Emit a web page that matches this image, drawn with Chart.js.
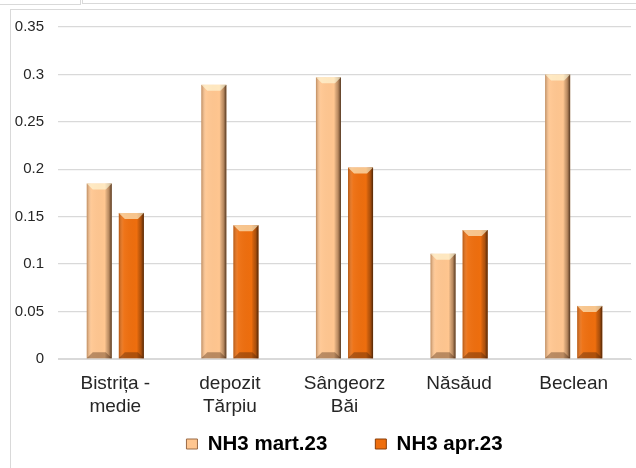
<!DOCTYPE html>
<html lang="ro">
<head>
    <meta charset="UTF-8">
    <script src="https://cdn.jsdelivr.net/npm/chart.js"></script>
    <title>NH3</title>
    <style>
    body {
        margin: 0;
        background: #ffffff;
        font-family: "Liberation Sans", Arial, sans-serif;
    }
    #wrap {
        position: relative;
        width: 636px;
        height: 468px;
        overflow: hidden;
    }
    .frame { position: absolute; border-color: #d9d9d9; border-style: solid; border-width: 0; }
    canvas { position: absolute; left: 0; top: 0; }
    </style>
</head>
<body>
<div id="wrap">
    <!-- bits of the surrounding sheet frame -->
    <div class="frame" style="left:0;top:0;width:80px;height:4px;border-bottom-width:1px;border-right-width:1px;"></div>
    <div class="frame" style="left:82px;top:0;width:560px;height:3px;border-bottom-width:1px;border-left-width:1px;"></div>
    <div class="frame" style="left:10px;top:9px;width:630px;height:470px;border-top-width:1px;border-left-width:1px;"></div>
    <canvas id="chart" width="636" height="468"></canvas>
</div>

<script>
    // date
    const categorii = [['Bistrița -', 'medie'], ['depozit', 'Tărpiu'], ['Sângeorz', 'Băi'], 'Năsăud', 'Beclean'];
    const nh3Martie = [0.185, 0.289, 0.297, 0.111, 0.300];
    const nh3Aprilie = [0.154, 0.141, 0.202, 0.136, 0.056];
    const etichete = ['NH3 mart.23', 'NH3 apr.23'];

    const FONT = '"Liberation Sans", Arial, sans-serif';

    // umbrire tip "bevel" peste bare
    const bevel = {
        id: 'bevel',
        afterLayout(chart) {
            // etichetele axei x trec peste zona legendei, nu le tăiem
            chart.scales.x.bottom = chart.height;
        },
        afterDatasetsDraw(chart) {
            const ctx = chart.ctx;
            chart.data.datasets.forEach((ds, di) => {
                const meta = chart.getDatasetMeta(di);
                meta.data.forEach(bar => {
                    const w = bar.width;
                    const l = bar.x - w / 2, r = bar.x + w / 2;
                    const t = bar.y, b = bar.base;
                    const e = 6;
                    ctx.save();
                    const g = ctx.createLinearGradient(l, 0, r, 0);
                    g.addColorStop(0, 'rgba(90,50,20,0.4)');
                    g.addColorStop(0.2, 'rgba(255,255,255,0.05)');
                    g.addColorStop(0.72, 'rgba(0,0,0,0)');
                    g.addColorStop(0.88, 'rgba(60,30,10,0.35)');
                    g.addColorStop(1, 'rgba(40,20,5,0.8)');
                    ctx.fillStyle = g;
                    ctx.fillRect(l, t, w, b - t);
                    // top bevel
                    ctx.beginPath();
                    ctx.moveTo(l, t);
                    ctx.lineTo(r, t);
                    ctx.lineTo(r - e, t + e);
                    ctx.lineTo(l + e, t + e);
                    ctx.closePath();
                    ctx.fillStyle = 'rgba(255,255,225,0.6)';
                    ctx.fill();
                    // bottom bevel
                    ctx.beginPath();
                    ctx.moveTo(l, b);
                    ctx.lineTo(r, b);
                    ctx.lineTo(r - e, b - e);
                    ctx.lineTo(l + e, b - e);
                    ctx.closePath();
                    ctx.fillStyle = 'rgba(60,30,10,0.35)';
                    ctx.fill();
                    ctx.restore();
                });
            });
        }
    };

    const ctx = document.getElementById('chart').getContext('2d');
    const chart = new Chart(ctx, {
        type: 'bar',
        data: {
            labels: categorii,
            datasets: [{
                label: etichete[0],
                data: nh3Martie,
                backgroundColor: '#FFC690',
                borderWidth: 0,
                categoryPercentage: 0.56,
                barPercentage: 0.78
            }, {
                label: etichete[1],
                data: nh3Aprilie,
                backgroundColor: '#EE6E0E',
                borderWidth: 0,
                categoryPercentage: 0.56,
                barPercentage: 0.78
            }]
        },
        options: {
            responsive: false,
            animation: false,
            layout: { padding: { left: 10, right: 5, top: 27, bottom: 3.75 } },
            plugins: {
                legend: {
                    position: 'bottom',
                    fullSize: false,
                    labels: {
                        boxWidth: 11,
                        boxHeight: 10,
                        padding: 48,
                        color: '#000000',
                        font: { family: FONT, size: 20.5, weight: 'bold' },
                        generateLabels(chart) {
                            const items = Chart.defaults.plugins.legend.labels.generateLabels(chart);
                            items.forEach((it, i) => {
                                it.strokeStyle = i === 0 ? '#9a6a44' : '#8a3e08';
                                it.lineWidth = 1;
                            });
                            return items;
                        }
                    }
                },
                tooltip: { enabled: false }
            },
            scales: {
                x: {
                    grid: { display: false, drawTicks: false },
                    border: { color: '#d9d9d9', width: 1 },
                    ticks: {
                        padding: 14,
                        color: '#262626',
                        maxRotation: 0,
                        font: { family: FONT, size: 19, lineHeight: 1.18 }
                    },
                    afterFit(scale) { scale.height = 26.75; }
                },
                y: {
                    min: 0,
                    max: 0.35,
                    grid: { color: '#d9d9d9', lineWidth: 1.3, drawTicks: false },
                    border: { display: false },
                    ticks: {
                        stepSize: 0.05,
                        padding: 14,
                        color: '#262626',
                        font: { family: FONT, size: 15 },
                        callback: v => String(Math.round(v * 100) / 100)
                    },
                    afterFit(scale) { scale.width = 48; }
                }
            }
        },
        plugins: [bevel]
    });
</script>
</body>
</html>
